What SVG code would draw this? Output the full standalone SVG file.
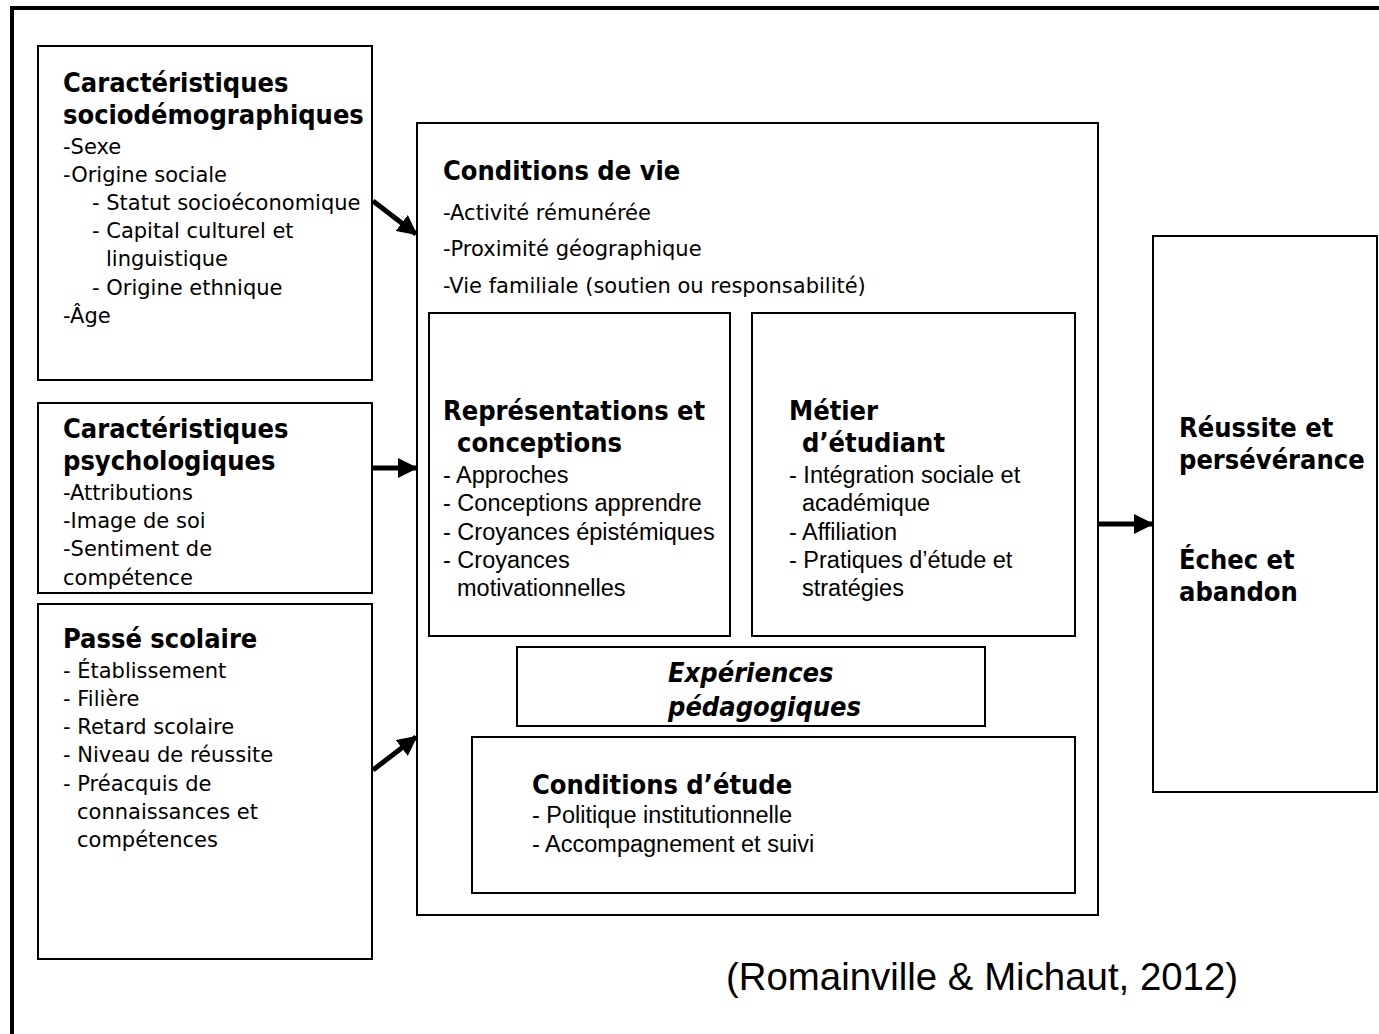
<svg xmlns="http://www.w3.org/2000/svg" width="1379" height="1034" viewBox="0 0 1379 1034">
<defs>
<style>
.box{fill:#fff;stroke:#000;stroke-width:2}
.t{font-family:"DejaVu Sans Condensed","DejaVu Sans",sans-serif;font-weight:bold;font-size:27px;fill:#000}
.it{font-family:"DejaVu Sans",sans-serif;font-size:21px;fill:#000}
.n{font-family:"Liberation Sans",Arial,sans-serif;font-size:23.5px;fill:#000}
.conn{stroke:#000;stroke-width:5;fill:none}
</style>
<marker id="ah" viewBox="0 0 10 10" refX="9" refY="5" markerWidth="4" markerHeight="4" orient="auto" markerUnits="strokeWidth">
<path d="M0,0 L10,5 L0,10 z" fill="#000"/>
</marker>
</defs>
<rect width="1379" height="1034" fill="#fff"/>
<path d="M12,1034 V8 H1379" fill="none" stroke="#000" stroke-width="4"/>

<g id="socio">
<rect class="box" x="38" y="46" width="334" height="334"/>
<text class="t" x="63" y="92">Caractéristiques</text>
<text class="t" x="63" y="124">sociodémographiques</text>
<text class="it" x="63" y="154">-Sexe</text>
<text class="it" x="63" y="182">-Origine sociale</text>
<text class="it" x="92" y="210">- Statut socioéconomique</text>
<text class="it" x="92" y="238">- Capital culturel et</text>
<text class="it" x="106" y="266">linguistique</text>
<text class="it" x="92" y="295">- Origine ethnique</text>
<text class="it" x="63" y="323">-Âge</text>
</g>

<g id="psycho">
<rect class="box" x="38" y="403" width="334" height="190"/>
<text class="t" x="63" y="438">Caractéristiques</text>
<text class="t" x="63" y="470">psychologiques</text>
<text class="it" x="63" y="500">-Attributions</text>
<text class="it" x="63" y="528">-Image de soi</text>
<text class="it" x="63" y="556">-Sentiment de</text>
<text class="it" x="63" y="585">compétence</text>
</g>

<g id="passe">
<rect class="box" x="38" y="604" width="334" height="355"/>
<text class="t" x="63" y="648">Passé scolaire</text>
<text class="it" x="63" y="678">- Établissement</text>
<text class="it" x="63" y="706">- Filière</text>
<text class="it" x="63" y="734">- Retard scolaire</text>
<text class="it" x="63" y="762">- Niveau de réussite</text>
<text class="it" x="63" y="791">- Préacquis de</text>
<text class="it" x="77" y="819">connaissances et</text>
<text class="it" x="77" y="847">compétences</text>
</g>

<g id="vie">
<rect class="box" x="417" y="123" width="681" height="792"/>
<text class="t" x="443" y="180">Conditions de vie</text>
<text class="it" x="443" y="220">-Activité rémunérée</text>
<text class="it" x="443" y="256">-Proximité géographique</text>
<text class="it" x="443" y="293">-Vie familiale (soutien ou responsabilité)</text>
</g>

<g id="repr">
<rect class="box" x="429" y="313" width="301" height="323"/>
<text class="t" x="443" y="420">Représentations et</text>
<text class="t" x="457" y="452">conceptions</text>
<text class="n" x="443" y="483">- Approches</text>
<text class="n" x="443" y="511">- Conceptions apprendre</text>
<text class="n" x="443" y="540">- Croyances épistémiques</text>
<text class="n" x="443" y="568">- Croyances</text>
<text class="n" x="457" y="596">motivationnelles</text>
</g>

<g id="metier">
<rect class="box" x="752" y="313" width="323" height="323"/>
<text class="t" x="789" y="420">Métier</text>
<text class="t" x="802" y="452">d’étudiant</text>
<text class="n" x="789" y="483">- Intégration sociale et</text>
<text class="n" x="802" y="511">académique</text>
<text class="n" x="789" y="540">- Affiliation</text>
<text class="n" x="789" y="568">- Pratiques d’étude et</text>
<text class="n" x="802" y="596">stratégies</text>
</g>

<g id="experiences">
<rect class="box" x="517" y="647" width="468" height="79"/>
<text class="t" x="668" y="682" font-style="italic">Expériences</text>
<text class="t" x="668" y="716" font-style="italic">pédagogiques</text>
</g>

<g id="etude">
<rect class="box" x="472" y="737" width="603" height="156"/>
<text class="t" x="532" y="794">Conditions d’étude</text>
<text class="n" x="532" y="823">- Politique institutionnelle</text>
<text class="n" x="532" y="852">- Accompagnement et suivi</text>
</g>

<g id="resultat">
<rect class="box" x="1153" y="236" width="224" height="556"/>
<text class="t" x="1179" y="437">Réussite et</text>
<text class="t" x="1179" y="469">persévérance</text>
<text class="t" x="1179" y="569">Échec et</text>
<text class="t" x="1179" y="601">abandon</text>
</g>

<g id="connectors">
<line class="conn" x1="373" y1="201" x2="416" y2="234" marker-end="url(#ah)"/>
<line class="conn" x1="373" y1="468" x2="416" y2="468" marker-end="url(#ah)"/>
<line class="conn" x1="373" y1="770" x2="416" y2="737" marker-end="url(#ah)"/>
<line class="conn" x1="1098" y1="524" x2="1152" y2="524" marker-end="url(#ah)"/>
</g>

<text x="726" y="990" font-family="Liberation Sans, Arial, sans-serif" font-size="38.4" fill="#000">(Romainville &amp; Michaut, 2012)</text>
</svg>
